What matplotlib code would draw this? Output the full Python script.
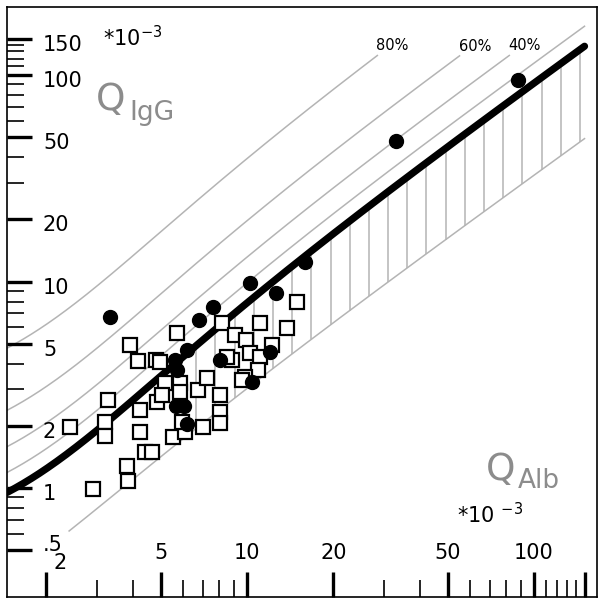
import numpy as np
import matplotlib.pyplot as plt
from matplotlib import transforms
from matplotlib.ticker import NullFormatter

# values, in units of 10^-3
dot_alb = [3.33, 88.0, 33.0, 15.9, 12.6, 10.24, 7.61, 6.80, 6.18, 5.61, 5.70,
           8.05, 12.0, 10.41, 5.66, 6.03, 6.18]
dot_igg = [6.73, 94.6, 47.9, 12.43, 8.80, 9.83, 7.52, 6.51, 4.66, 4.17, 3.73,
           4.17, 4.56, 3.26, 2.49, 2.49, 2.04]

sq_alb = [2.42, 2.91, 3.20, 3.20, 3.28, 3.82, 3.85, 3.91, 4.17, 4.24, 4.24,
          4.41, 4.67, 4.82, 4.98, 4.86, 5.18, 5.70, 5.84, 5.84, 6.75, 5.52,
          6.08, 5.94, 7.03, 7.26, 8.05, 8.05, 8.05, 8.18, 9.08, 8.87, 8.52,
          9.92, 10.24, 11.10, 10.92, 9.84, 9.61, 11.10, 12.22, 13.79, 14.94, 5.05]
sq_igg = [1.97, 0.99, 2.09, 1.79, 2.67, 1.28, 1.08, 4.93, 4.12, 2.39, 1.87,
          1.49, 1.49, 4.17, 4.08, 2.61, 3.23, 5.63, 3.23, 2.92, 2.98, 1.77,
          1.87, 2.09, 1.97, 3.41, 2.82, 2.33, 2.06, 6.30, 5.51, 4.17, 4.31,
          5.21, 4.51, 4.31, 3.73, 3.45, 3.33, 6.30, 4.93, 5.95, 7.96, 2.82]

fractions = [0.2, 0.4, 0.6, 0.8]
frac_labels = ['', '40%', '60%', '80%']

y_ticks = [0.5, 1, 2, 5, 10, 20, 50, 100, 150]
y_labels = ['.5', '1', '2', '5', '10', '20', '50', '100', '150']
y_minor = [0.6, 0.7, 0.8, 0.9, 3, 4, 6, 7, 8, 9, 30, 40, 60, 70, 80, 90,
           110, 120, 130, 140]
x_ticks = [2, 5, 10, 20, 50, 100, 150]
x_labels = ['2', '5', '10', '20', '50', '100', '']
x_minor = [3, 4, 6, 7, 8, 9, 30, 40, 60, 70, 80, 90, 110, 120, 130, 140]


def q_lim(q):
    # Reiber upper limit
    return 0.93 * np.sqrt(q ** 2 + 6) - 1.7


def q_low(q):
    return 0.33 * np.sqrt(q ** 2 + 2) - 0.3


GRAY = '#b4b4b4'
TXT_GRAY = '#8c8c8c'
FS = 15

fig = plt.figure(figsize=(6.04, 6.05), dpi=100)
ax = fig.add_axes([7 / 604, 8 / 605, 590 / 604, 590 / 605])
ax.set_xscale('log')
ax.set_yscale('log')
xmin, xmax = 1.458, 165.8
ax.set_xlim(xmin, xmax)
ax.set_ylim(0.2966, 213.5)

x_end = 150
xs = np.geomspace(xmin, x_end, 500)

# hatching between lower and upper limit
hatch_x = 6.65 * 1.1665 ** np.arange(21)
hatch_x = hatch_x[hatch_x <= x_end]
ax.vlines(hatch_x, q_low(hatch_x), q_lim(hatch_x), color=GRAY, lw=1.1, zorder=1)

# lower limit
xl = np.geomspace(2.4, x_end, 400)
ax.plot(xl, q_low(xl), color=GRAY, lw=1.1, zorder=1)

# intrathecal fraction lines
for f, lab in zip(fractions, frac_labels):
    yy = q_lim(xs) / (1 - f)
    if lab:
        keep = yy <= 125
        ax.plot(xs[keep], yy[keep], color=GRAY, lw=1.1, zorder=1)
        tr = transforms.offset_copy(ax.transData, fig, x=-1, y=2, units='dots')
        ax.text(xs[keep][-1], yy[keep][-1], lab, fontsize=10.5, ha='left',
                va='bottom', transform=tr)
    else:
        ax.plot(xs, yy, color=GRAY, lw=1.1, zorder=1)

# upper limit
ax.plot(xs, q_lim(xs), color='black', lw=5.2, solid_capstyle='round', zorder=3)

ax.plot(sq_alb, sq_igg, 's', ms=10, mfc='white', mec='black', mew=1.6,
        ls='none', zorder=4)
ax.plot(dot_alb, dot_igg, 'o', ms=10, color='black', ls='none', zorder=5)

# ticks inside, labels drawn by hand
ax.set_xticks(x_ticks)
ax.set_xticks(x_minor, minor=True)
ax.set_yticks(y_ticks)
ax.set_yticks(y_minor, minor=True)
for axis in (ax.xaxis, ax.yaxis):
    axis.set_major_formatter(NullFormatter())
    axis.set_minor_formatter(NullFormatter())
ax.tick_params(which='major', direction='in', length=18, width=2.4)
ax.tick_params(which='minor', direction='in', length=12.5, width=1.2)
for s in ax.spines.values():
    s.set_linewidth(1.2)

ytr = ax.get_yaxis_transform()
for v, lab in zip(y_ticks, y_labels):
    dy = 5 if lab == '.5' else -6
    tr = transforms.offset_copy(ytr, fig, y=dy, units='dots')
    ax.text(0.061, v, lab, fontsize=FS, ha='left', va='center', transform=tr)

xtr = ax.get_xaxis_transform()
for v, lab in zip(x_ticks, x_labels):
    if lab == '2':
        tr = transforms.offset_copy(xtr, fig, x=14, y=-10, units='dots')
    else:
        tr = xtr
    ax.text(v, 0.0746, lab, fontsize=FS, ha='center', va='center', transform=tr)

# axis titles
fig.text(103 / 604, 1 - 38 / 605, r'*10$^{-3}$', fontsize=FS, va='center')
fig.text(96 / 604, 1 - 110 / 605, 'Q', fontsize=27, color=TXT_GRAY, va='baseline')
fig.text(129 / 604, 1 - 120 / 605, 'IgG', fontsize=19, color=TXT_GRAY, va='baseline')
fig.text(486 / 604, 1 - 480 / 605, 'Q', fontsize=27, color=TXT_GRAY, va='baseline')
fig.text(518 / 604, 1 - 488 / 605, 'Alb', fontsize=19, color=TXT_GRAY, va='baseline')
fig.text(457 / 604, 1 - 515 / 605, r'*10 $^{-3}$', fontsize=FS, va='center')

fig.savefig('out.png', dpi=100)
